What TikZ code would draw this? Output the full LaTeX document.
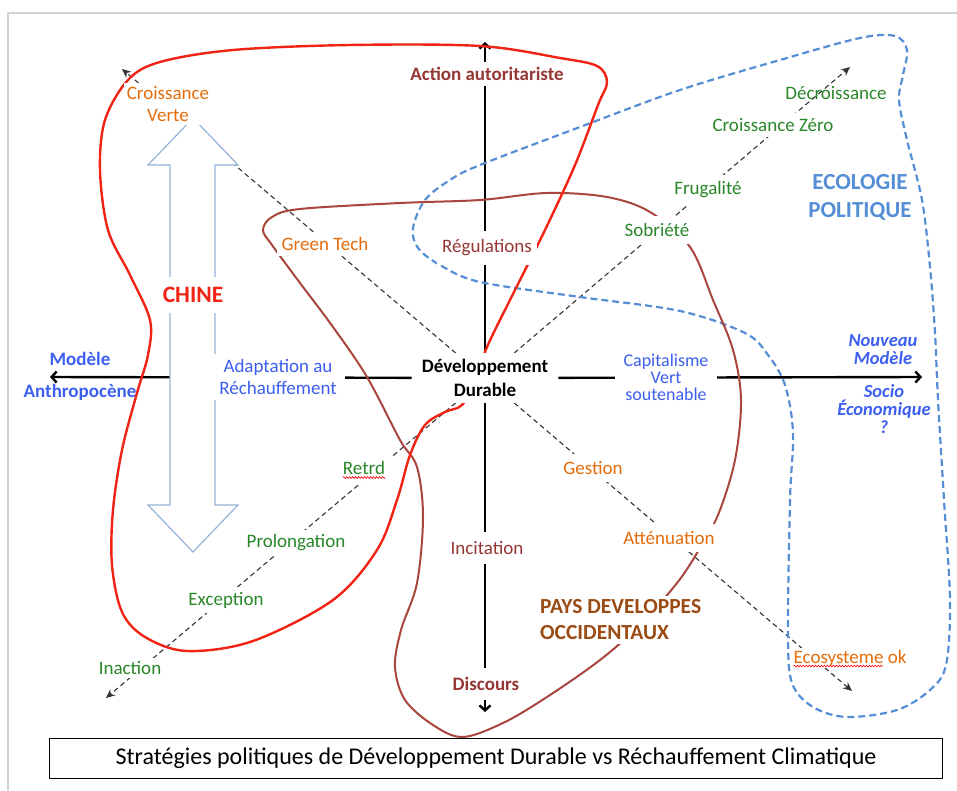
\documentclass[tikz,border=0pt]{standalone}
\usepackage{fontspec}
\setmainfont{Carlito}
\usetikzlibrary{arrows.meta,decorations.pathmorphing}
\pgfdeclarelayer{background}
\pgfsetlayers{background,main}

\definecolor{axisred}{RGB}{149,55,53}
\definecolor{leaforange}{RGB}{228,108,10}
\definecolor{leafgreen}{RGB}{40,135,40}
\definecolor{modelblue}{RGB}{60,95,240}
\definecolor{ecoblue}{RGB}{85,142,213}
\definecolor{chinared}{RGB}{240,35,20}
\definecolor{westbrown}{RGB}{168,70,62}
\definecolor{paysbrown}{RGB}{155,75,20}
\definecolor{arrowblue}{RGB}{149,179,215}

\begin{document}
\begin{tikzpicture}[x=1pt,y=-1pt,
	every node/.style={font=\fontsize{19}{22}\selectfont, align=center},
	lbl/.style={fill=white, inner sep=5pt},
	bold/.style={font=\fontsize{19}{22}\selectfont\bfseries},
	tight/.style={font=\fontsize{18}{17}\selectfont},
	model/.style={text=modelblue, font=\fontsize{18.5}{18}\selectfont\bfseries\itshape},
	axis/.style={line width=2.4pt, -{Straight Barb[length=5pt,width=11pt]}},
	ray/.style={black!80, line width=1.1pt, dash pattern=on 5pt off 3.5pt, -{Stealth[length=9pt,width=8pt]}},
	spell/.style={red, line width=0.6pt, decorate, decoration={snake, amplitude=0.9pt, segment length=3pt}}]
	\useasboundingbox (0,0) rectangle (957,791);

	% coordinates of the arrow tips
	\coordinate (tipN) at (485,42);
	\coordinate (tipS) at (485,712);
	\coordinate (tipW) at (50,377);
	\coordinate (tipE) at (922,377);
	\coordinate (tipUL) at (122,69);
	\coordinate (tipUR) at (850,67);
	\coordinate (tipDL) at (106,698);
	\coordinate (tipDR) at (852,691);

	% china arrow
	\draw[arrowblue, line width=1.2pt, fill=white] (193,118) -- (238,165) -- (215,165) -- (215,505) -- (238,505)
		-- (193,552) -- (148,505) -- (170,505) -- (170,165) -- (148,165) -- cycle;

	% labels
	\node[lbl, font=\fontsize{19}{24}\selectfont\bfseries, inner xsep=10pt, inner ysep=6pt] (dd) at (485,378) {Développement\\Durable};
	\node[lbl, bold, text=axisred] (aa) at (487,74) {Action autoritariste};
	\node[lbl, text=axisred, inner ysep=9pt] (reg) at (487,248) {Régulations};
	\node[lbl, text=axisred, inner ysep=9pt] (inc) at (487,548) {Incitation};
	\node[lbl, bold, text=axisred, inner ysep=9pt] (disc) at (486,684) {Discours};
	\node[lbl, text=leaforange, inner sep=3pt] (cv) at (168,104) {Croissance\\Verte};
	\node[lbl, text=leaforange] (gt) at (325,244) {Green Tech};
	\node[lbl, text=chinared, font=\fontsize{23.5}{26}\selectfont\bfseries, inner xsep=1pt, inner ysep=10pt] (chine) at (193,295) {CHINE};
	\node[text=modelblue, font=\fontsize{19}{32}\selectfont\bfseries] (ma) at (80,376) {Modèle\\Anthropocène};
	\node[lbl, text=modelblue, inner xsep=8pt] (adapt) at (278,377) {Adaptation au\\Réchauffement};
	\node[lbl, tight, text=modelblue, inner xsep=9pt] (capv) at (666,377) {Capitalisme\\Vert\\soutenable};
	\node[model] (nm) at (883,350) {Nouveau\\Modèle};
	\node[model] (se) at (884,409) {Socio\\Économique\\?};
	\node[text=leafgreen] (decr) at (836,93) {Décroissance};
	\node[lbl, text=leafgreen] (cz) at (773,125) {Croissance Zéro};
	\node[lbl, text=leafgreen, inner sep=7pt] (frug) at (708,190) {Frugalité};
	\node[lbl, text=leafgreen, inner sep=7pt] (sob) at (657,230) {Sobriété};
	\node[text=ecoblue, font=\fontsize{23}{28}\selectfont\bfseries] (eco) at (860,197) {ECOLOGIE\\POLITIQUE};
	\node[lbl, text=leafgreen, inner sep=8pt] (retrd) at (364,468) {Retrd};
	\node[lbl, text=leafgreen] (prol) at (296,543) {Prolongation};
	\node[lbl, text=leafgreen] (exc) at (226,600) {Exception};
	\node[lbl, text=leafgreen, inner sep=3pt] (inact) at (130,668) {Inaction};
	\node[lbl, text=leaforange, inner sep=7pt] (gest) at (593,468) {Gestion};
	\node[lbl, text=leaforange, inner sep=7pt] (att) at (669,538) {Atténuation};
	\node[lbl, anchor=west, align=left, text=paysbrown, font=\fontsize{21.5}{26}\selectfont\bfseries, inner sep=4pt] (pays) at (536,620) {PAYS DEVELOPPES\\OCCIDENTAUX};
	\node[lbl, text=leaforange, inner sep=2pt] (ecos) at (850,658) {Ecosysteme ok};
	\node[draw, line width=1pt, minimum width=893pt, minimum height=40pt, font=\fontsize{24}{28}\selectfont] (title) at (496,758) {Stratégies politiques de Développement Durable vs Réchauffement Climatique};

	% spelling marks
	\draw[spell] ([xshift=8pt,yshift=-3pt]retrd.base west) -- ([xshift=-8pt,yshift=-3pt]retrd.base east);
	\draw[spell] ([xshift=2pt,yshift=-3pt]ecos.base west) -- ([xshift=-25pt,yshift=-3pt]ecos.base east);

	\begin{pgfonlayer}{background}
		% page edge
		\draw[gray!35, line width=2pt] (8,791) -- (8,13) -- (957,13);
		% axes
		\draw[axis] (dd) -- (tipN);
		\draw[axis] (dd) -- (tipS);
		\draw[axis] (dd) -- (tipW);
		\draw[axis] (dd) -- (tipE);
		% rays
		\draw[ray] (dd) -- (tipUL);
		\draw[ray] (dd) -- (tipUR);
		\draw[ray] (dd) -- (tipDL);
		\draw[ray] (dd) -- (tipDR);
		% ecologie politique
		\draw[ecoblue, line width=2.2pt, dash pattern=on 7pt off 4pt] plot[smooth cycle, tension=0.55] coordinates {
			(413,228) (425,200) (450,180) (480,165) (580,127) (680,90) (780,60) (860,38) (895,36) (907,50)
			(903,75) (899,100) (907,140) (922,200) (930,267) (935,333) (938,400) (944,500) (950,600)
			(946,665) (930,690) (897,710) (847,717) (813,707) (792,683) (788,633) (790,500) (793,433)
			(785,385) (768,355) (745,333) (680,311) (580,297) (480,282) (440,265) (418,248)};
		% pays developpes
		\draw[westbrown, line width=2pt] plot[smooth cycle, tension=0.55] coordinates {
			(272,217) (300,209) (400,203) (480,200) (547,193) (607,197) (650,212) (690,247) (713,300)
			(733,350) (741,400) (735,460) (718,515) (697,553) (677,583) (640,625) (600,660) (550,695)
			(505,722) (463,737) (433,725) (405,700) (395,667) (401,630) (417,583) (423,517) (417,467)
			(400,440) (367,377) (333,327) (300,283) (272,245) (263,230)};
		% chine
		\draw[chinared, line width=2.4pt] plot[smooth cycle, tension=0.55] coordinates {
			(487,347) (515,290) (545,230) (575,165) (598,105) (607,82) (597,66) (560,58) (480,46)
			(350,45) (233,50) (160,62) (128,80) (105,120) (100,170) (108,230) (130,275) (150,320)
			(148,355) (137,393) (122,450) (113,510) (112,565) (122,612) (145,637) (187,651) (253,641)
			(333,600) (377,550) (397,500) (410,455) (425,425) (445,412) (462,405) (476,380)};
	\end{pgfonlayer}
\end{tikzpicture}
\end{document}
